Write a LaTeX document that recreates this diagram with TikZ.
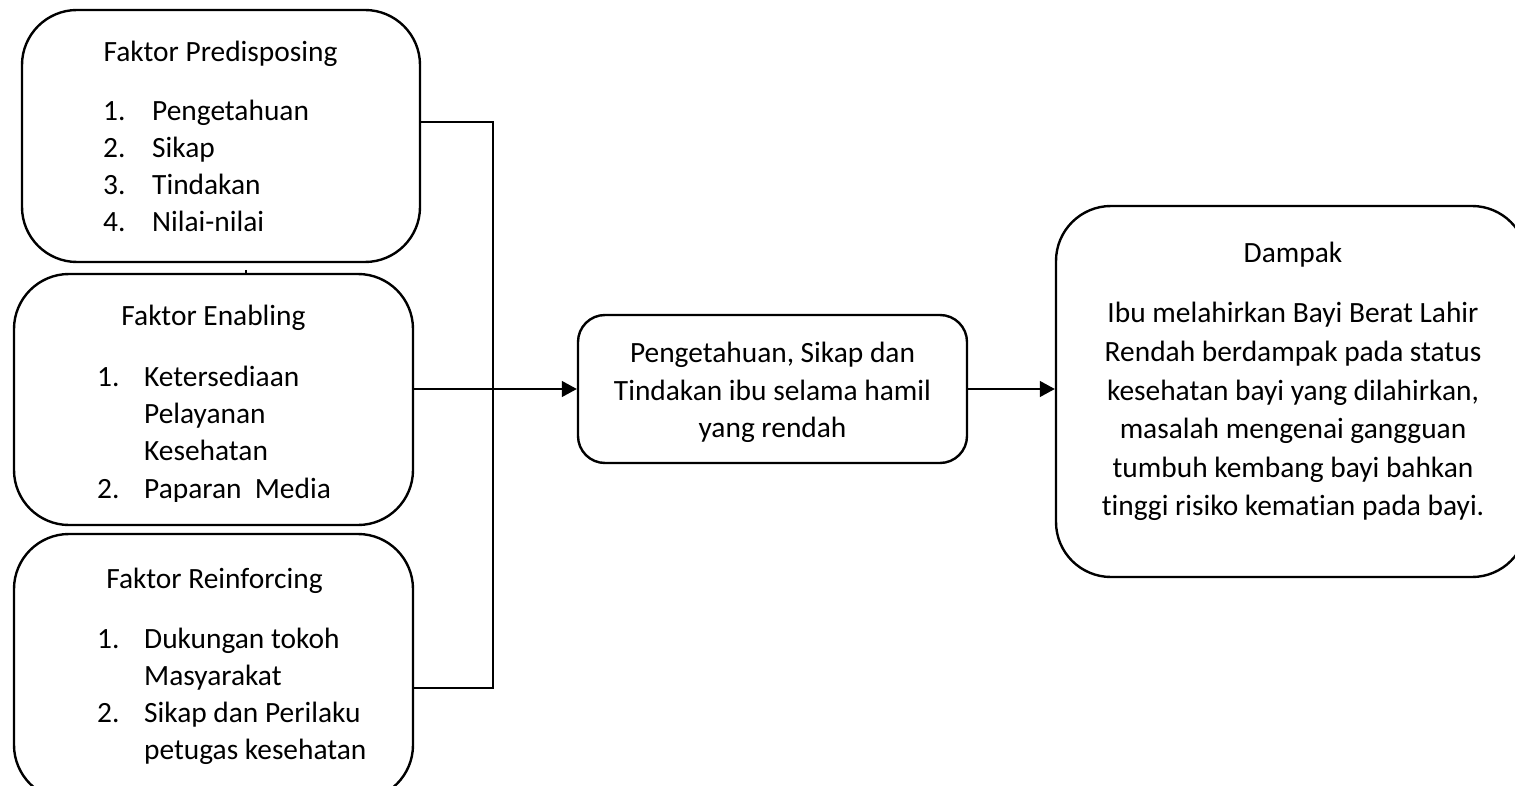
\documentclass[tikz,border=0pt]{standalone}
\usepackage{fontspec}
\setmainfont{Carlito}[Ligatures=NoCommon]
\usetikzlibrary{arrows.meta}

\tikzset{
  kotak/.style={draw, line width=2.4pt, rounded corners=55pt, inner sep=0pt},
  kotakkecil/.style={kotak, rounded corners=27pt},
  teks/.style={inner sep=0pt, anchor=base west, font=\fontsize{29.4}{37}\selectfont},
  judul/.style={teks, anchor=base},
  garis/.style={line width=1.2pt},
  panah/.style={garis, -{Triangle[length=15pt,width=16pt]}},
}

\begin{document}
\begin{tikzpicture}[x=1pt,y=-1pt]
   \useasboundingbox (0,0) rectangle (1515,786);
   \clip (0,0) rectangle (1515,786);
   % kotak faktor
   \node[kotak, minimum width=398pt, minimum height=252pt] (pre) at (221,136) {};
   \node[kotak, minimum width=399pt, minimum height=251pt] (ena) at (213.5,399.5) {};
   \node[kotak, minimum width=399pt, minimum height=266pt] (rei) at (213.5,667) {};
   \node[kotakkecil, minimum width=389pt, minimum height=148pt] (mid) at (772.5,389) {};
   \node[kotak, minimum width=471pt, minimum height=371pt] (dam) at (1291.5,391.5) {};

   % Faktor Predisposing
   \node[judul] (pre-judul) at (220.5,62) {Faktor Predisposing};
   \foreach \t [count=\i] in {Pengetahuan, Sikap, Tindakan, Nilai-nilai}{
     \node[teks] (pre-n\i) at (103,84+37*\i) {\i.};
     \node[teks] (pre-t\i) at (152,84+37*\i) {\t};
   }

   % Faktor Enabling
   \node[judul] (ena-judul) at (213.5,326) {Faktor Enabling};
   \node[teks] (ena-n1) at (97,386) {1.};
   \node[teks] (ena-t1) at (144,386) {Ketersediaan};
   \node[teks] (ena-t2) at (144,423) {Pelayanan};
   \node[teks] (ena-t3) at (144,460) {Kesehatan};
   \begin{scope}
     \clip (14,274) rectangle (413,501);
     \node[teks] (ena-n2) at (97,498) {2.};
     \node[teks] (ena-t4) at (144,498) {Paparan\ \ Media};
   \end{scope}

   % Faktor Reinforcing
   \node[judul] (rei-judul) at (214.5,588) {Faktor Reinforcing};
   \node[teks] (rei-n1) at (97,648) {1.};
   \node[teks] (rei-t1) at (144,648) {Dukungan tokoh};
   \node[teks] (rei-t2) at (144,685) {Masyarakat};
   \node[teks] (rei-n2) at (97,722) {2.};
   \node[teks] (rei-t3) at (144,722) {Sikap dan Perilaku};
   \node[teks] (rei-t4) at (144,759) {petugas kesehatan};

   % kotak tengah
   \foreach \t [count=\i] in {{Pengetahuan, Sikap dan}, Tindakan ibu selama hamil, yang rendah}
     \node[judul] (mid-t\i) at (772.5,325+37.5*\i) {\t};

   % Dampak
   \node[judul] (dam-judul) at (1293,263) {Dampak};
   \foreach \t [count=\i] in {Ibu melahirkan Bayi Berat Lahir, Rendah berdampak pada status,
     {kesehatan bayi yang dilahirkan,}, masalah mengenai gangguan,
     tumbuh kembang bayi bahkan, tinggi risiko kematian pada bayi.}
     \node[judul] (dam-t\i) at (1293,284.5+38.5*\i) {\t};

   % garis penghubung
   \coordinate (atas) at (493,122);
   \coordinate (bawah) at (493,688);
   \draw[garis] (pre.east |- atas) -- (atas) -- (bawah) -- (rei.east |- bawah);
   \draw[panah] (ena.east |- mid.west) -- (mid.west);
   \draw[panah] (mid.east) -- (mid.east -| dam.west);
   \draw[garis] (246,270) -- (ena.north -| 246,0);
\end{tikzpicture}
\end{document}
